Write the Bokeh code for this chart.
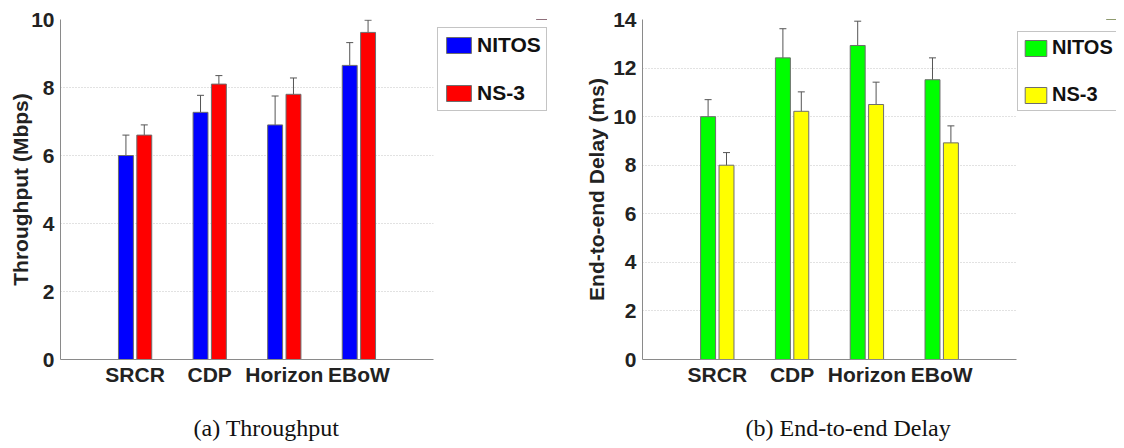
from bokeh.plotting import figure
from bokeh.models import (ColumnDataSource, Range1d, FixedTicker, Whisker, Legend,
                          LegendItem, Title)
from bokeh.transform import dodge
from bokeh.layouts import row
from bokeh.embed import file_html
from bokeh.resources import INLINE

# ---------------- data ----------------
categories = ["SRCR", "CDP", "Horizon", "EBoW"]
series = ["NITOS", "NS-3"]

thr_nitos = [6.0, 7.27, 6.9, 8.65]
thr_nitos_err = [0.6, 0.5, 0.85, 0.67]
thr_ns3 = [6.6, 8.1, 7.8, 9.62]
thr_ns3_err = [0.3, 0.25, 0.48, 0.36]

del_nitos = [10.0, 12.42, 12.93, 11.52]
del_nitos_err = [0.7, 1.2, 1.0, 0.9]
del_ns3 = [8.0, 10.22, 10.5, 8.92]
del_ns3_err = [0.52, 0.8, 0.92, 0.7]

thr_ticks = [0, 2, 4, 6, 8, 10]
del_ticks = [0, 2, 4, 6, 8, 10, 12, 14]

SANS = "Liberation Sans"
SERIF = "Liberation Serif"
BAR_LINE = "#6e6e6e"
OFF = 0.123


def make_source(a, a_err, b, b_err):
    xs = list(range(1, len(categories) + 1))
    return ColumnDataSource(dict(
        x=xs, a=a, b=b,
        a_lo=[v - e for v, e in zip(a, a_err)], a_hi=[v + e for v, e in zip(a, a_err)],
        b_lo=[v - e for v, e in zip(b, b_err)], b_hi=[v + e for v, e in zip(b, b_err)],
    ))


def make_panel(src, a_col, b_col, ylabel, yticks, caption,
               frame_w, min_left, min_right, cap_offset, label_standoff):
    xs = list(range(1, len(categories) + 1))
    p = figure(frame_width=frame_w, frame_height=340, output_backend="svg",
               toolbar_location=None,
               x_range=Range1d(0, len(categories) + 1),
               y_range=Range1d(yticks[0], yticks[-1]),
               min_border_left=min_left, min_border_right=min_right,
               min_border_top=19, min_border_bottom=10)
    p.outline_line_color = None
    p.background_fill_color = "white"
    p.border_fill_color = "white"

    p.vbar(x=dodge("x", -OFF), top="a", width=0.2, bottom=0,
           source=src, fill_color=a_col, line_color=BAR_LINE, line_width=1)
    p.vbar(x=dodge("x", OFF), top="b", width=0.2, bottom=0,
           source=src, fill_color=b_col, line_color=BAR_LINE, line_width=1)
    for o, lo, hi in ((-OFF, "a_lo", "a_hi"), (OFF, "b_lo", "b_hi")):
        w = Whisker(base=dodge("x", o), lower=lo, upper=hi, source=src,
                    line_color="#555555", line_width=1)
        w.upper_head.size = 7
        w.lower_head.size = 7
        w.upper_head.line_color = "#555555"
        w.lower_head.line_color = "#555555"
        p.add_layout(w)

    # axes
    p.xaxis.ticker = FixedTicker(ticks=xs)
    p.xaxis.major_label_overrides = {x: c for x, c in zip(xs, categories)}
    p.yaxis.ticker = FixedTicker(ticks=yticks)
    for ax in (p.xaxis, p.yaxis):
        ax.axis_line_color = "#8a8a8a"
        ax.major_tick_line_color = None
        ax.minor_tick_line_color = None
        ax.major_label_text_font = SANS
        ax.major_label_text_font_style = "bold"
        ax.major_label_text_font_size = "21px"
        ax.major_label_text_color = "#222222"
    p.xaxis.major_label_standoff = -3
    p.yaxis.major_label_standoff = 0
    p.yaxis.axis_label = ylabel
    p.yaxis.axis_label_text_font = SANS
    p.yaxis.axis_label_text_font_style = "bold"
    p.yaxis.axis_label_text_font_size = "21px"
    p.yaxis.axis_label_text_color = "#222222"
    p.yaxis.axis_label_standoff = label_standoff

    p.xgrid.grid_line_color = None
    p.ygrid.grid_line_color = "#c4c4c4"
    p.ygrid.grid_line_dash = "1 2"
    p.ygrid.grid_line_width = 1

    t = Title(text=caption, align="left", offset=cap_offset, standoff=49,
              text_font=SERIF, text_font_style="normal", text_font_size="24px",
              text_color="#111111")
    p.add_layout(t, "below")
    return p


def make_legend(src, a_col, b_col, frame_w, font, glyph_w, padding):
    # a small figure that only holds the legend, placed right of its chart;
    # its bars use the chart's data but lie outside this figure's view
    fh = 100
    lp = figure(frame_width=frame_w, frame_height=fh, output_backend="svg",
                toolbar_location=None, x_axis_location=None, y_axis_location=None,
                x_range=Range1d(0, 1), y_range=Range1d(-2, -1),
                min_border_left=0, min_border_right=0, min_border_top=19,
                min_border_bottom=0)
    lp.outline_line_color = None
    lp.xgrid.visible = False
    lp.ygrid.visible = False
    ra = lp.vbar(x="x", top="a", bottom=0, width=0.2, source=src, fill_color=a_col,
                 line_color=BAR_LINE, line_width=1)
    rb = lp.vbar(x="x", top="b", bottom=0, width=0.2, source=src, fill_color=b_col,
                 line_color=BAR_LINE, line_width=1)
    legend = Legend(items=[LegendItem(label=series[0], renderers=[ra]),
                           LegendItem(label=series[1], renderers=[rb])],
                    location=(0, fh - 8 - 84), orientation="vertical")
    legend.border_line_color = "#8a8a8a"
    legend.border_line_width = 1
    legend.background_fill_color = "white"
    legend.background_fill_alpha = 1
    legend.label_text_font = SANS
    legend.label_text_font_style = "bold"
    legend.label_text_font_size = font
    legend.label_text_color = "#111111"
    legend.glyph_width = glyph_w
    legend.glyph_height = 20
    legend.label_height = 20
    legend.label_standoff = 3
    legend.spacing = 24
    legend.padding = padding
    legend.margin = 0
    lp.add_layout(legend, "center")
    return lp


src1 = make_source(thr_nitos, thr_nitos_err, thr_ns3, thr_ns3_err)
src2 = make_source(del_nitos, del_nitos_err, del_ns3, del_ns3_err)

p1 = make_panel(src1, "#0000ff", "#ff0000", "Throughput (Mbps)", thr_ticks,
                "(a) Throughput", frame_w=373, min_left=60, min_right=4,
                cap_offset=133, label_standoff=-4)
l1 = make_legend(src1, "#0000ff", "#ff0000", frame_w=110, font="21px", glyph_w=31, padding=5)
p2 = make_panel(src2, "#00ff00", "#ffff00", "End-to-end Delay (ms)", del_ticks,
                "(b) End-to-end Delay", frame_w=374, min_left=95, min_right=1,
                cap_offset=103, label_standoff=2)
l2 = make_legend(src2, "#00ff00", "#ffff00", frame_w=99, font="20px", glyph_w=27, padding=4)

layout = row(p1, l1, p2, l2)
open("out.html", "w").write(file_html(layout, INLINE))
